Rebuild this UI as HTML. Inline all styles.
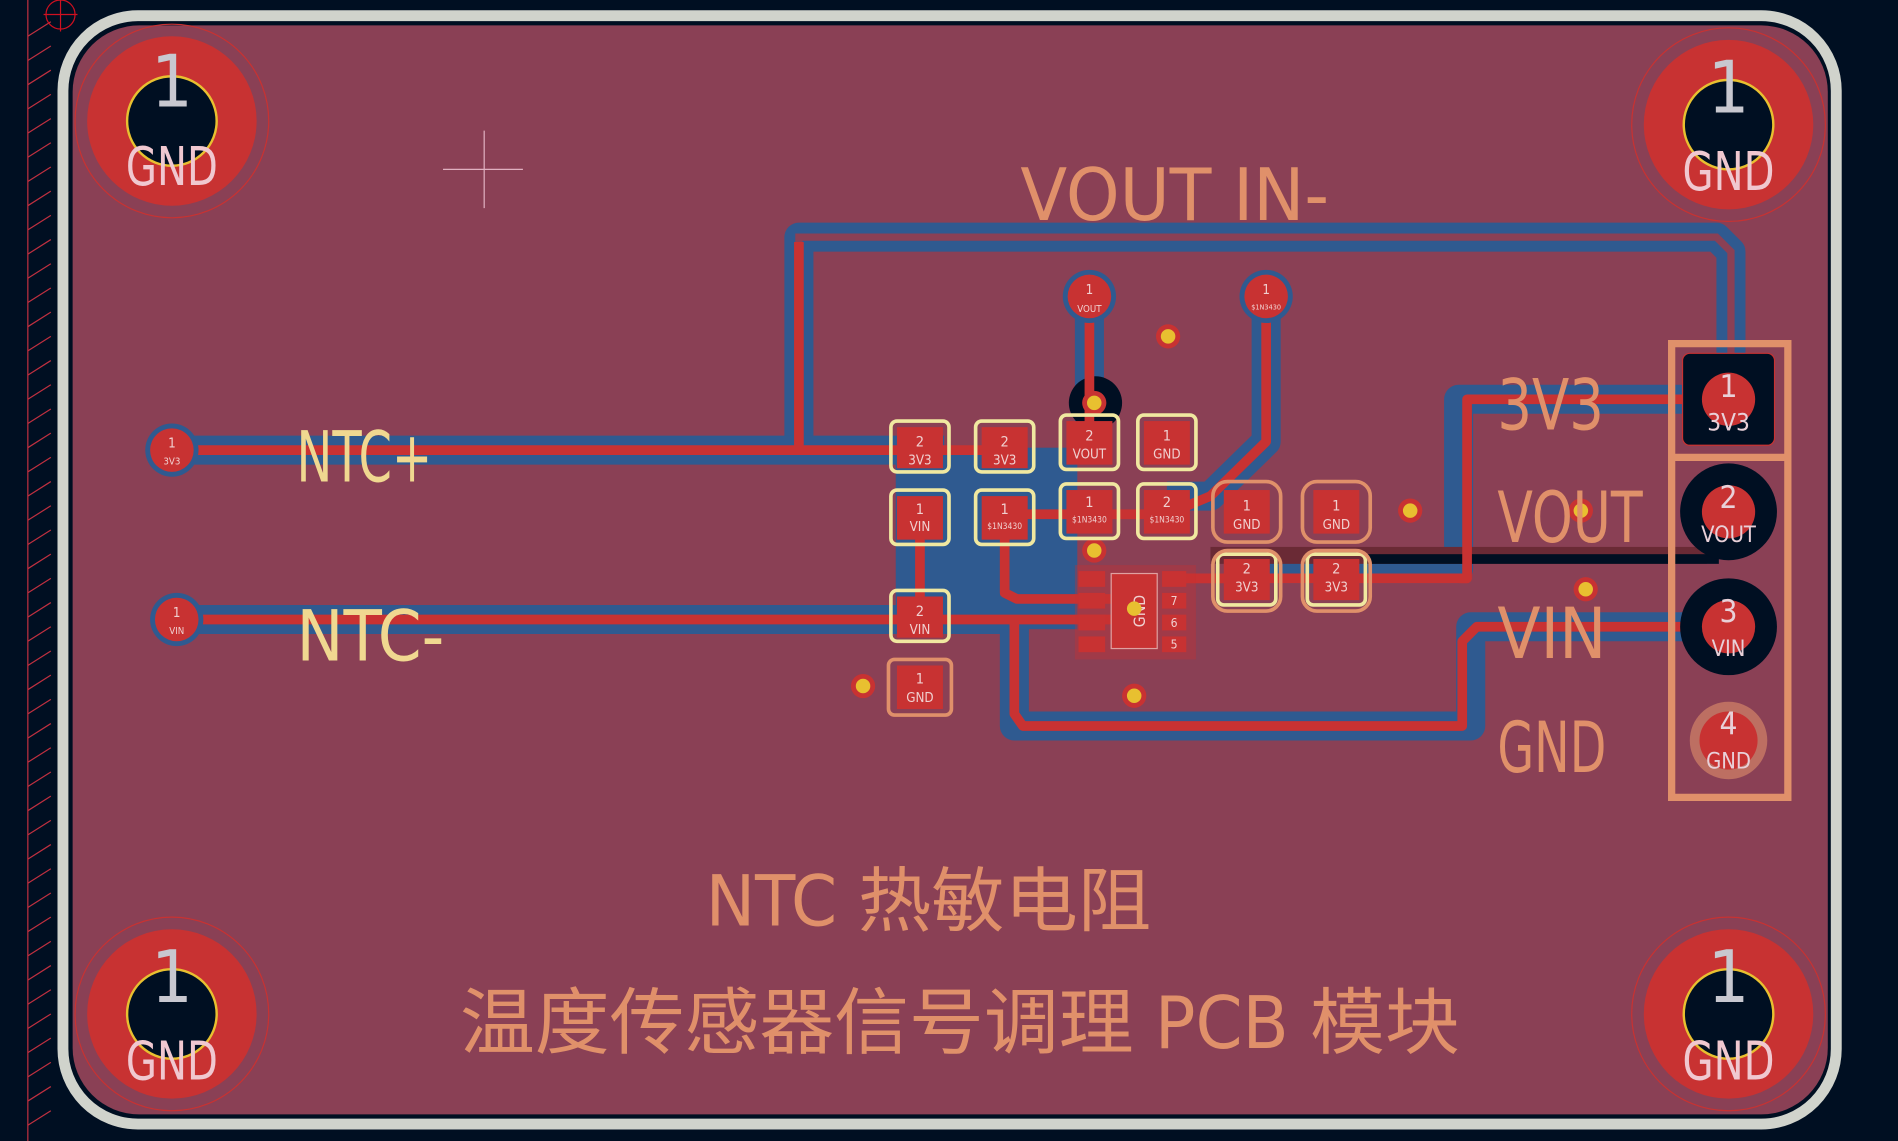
<!DOCTYPE html>
<html><head><meta charset="utf-8"><style>
html,body{margin:0;padding:0;background:#000f22;}
svg{display:block}
text{font-family:"DejaVu Sans Condensed","Liberation Sans","Noto Sans CJK SC",sans-serif}
.s{fill:#e0906a}
</style></head><body>
<svg width="1898" height="1141" viewBox="0 0 1568 943" preserveAspectRatio="none" xmlns="http://www.w3.org/2000/svg">
<rect width="1568" height="943" fill="#000f22"/>
<line x1="23" y1="0" x2="23" y2="943" stroke="#c03040" stroke-width="1"/>
<g stroke="#c03040" stroke-width="1">
<path d="M23,30 L42,18 M23,50 L42,38 M23,70 L42,58 M23,90 L42,78 M23,110 L42,98 M23,130 L42,118 M23,150 L42,138 M23,170 L42,158 M23,190 L42,178 M23,210 L42,198 M23,230 L42,218 M23,250 L42,238 M23,270 L42,258 M23,290 L42,278 M23,310 L42,298 M23,330 L42,318 M23,350 L42,338 M23,370 L42,358 M23,390 L42,378 M23,410 L42,398 M23,430 L42,418 M23,450 L42,438 M23,470 L42,458 M23,490 L42,478 M23,510 L42,498 M23,530 L42,518 M23,550 L42,538 M23,570 L42,558 M23,590 L42,578 M23,610 L42,598 M23,630 L42,618 M23,650 L42,638 M23,670 L42,658 M23,690 L42,678 M23,710 L42,698 M23,730 L42,718 M23,750 L42,738 M23,770 L42,758 M23,790 L42,778 M23,810 L42,798 M23,830 L42,818 M23,850 L42,838 M23,870 L42,858 M23,890 L42,878 M23,910 L42,898 M23,930 L42,918"/>
</g>
<circle cx="50" cy="12" r="12" fill="none" stroke="#d01020" stroke-width="1"/>
<path d="M50,0V26M36,12H64" stroke="#d01020"/>
<!-- board -->
<rect x="52" y="13" width="1465" height="916" rx="62" fill="#000f22" stroke="#d0d3cc" stroke-width="9"/>
<rect x="60" y="21" width="1450" height="900" rx="55" fill="#8a4055"/>
<path d="M400,108V172M366,140H432" stroke="#e0b0c0" stroke-width="1"/>

<!-- blue traces -->
<g fill="none" stroke="#2f5a90" stroke-width="24" stroke-linejoin="round">
<path d="M660,372V196H1418L1430,208V300"/>
<path d="M142,372H780"/>
<path d="M146,512H840"/>
<path d="M1428,330H1205V470H1030"/>
<path d="M1428,518H1215V600H838V515"/>
<path d="M900,245V370"/>
<path d="M1046,245V365L1000,410H964"/>
</g>
<rect x="740" y="370" width="150" height="150" fill="#2f5a90"/>
<path d="M660,372V196H1418L1430,208V300" fill="none" stroke="#8a4055" stroke-width="6"/>
<rect x="1000" y="452" width="410" height="14" fill="#6a2a35"/>
<rect x="1130" y="458" width="290" height="8" fill="#000f22"/>
<circle cx="905" cy="333" r="22" fill="#000f22"/>
<!-- red traces -->
<g fill="none" stroke="#c83232" stroke-width="8" stroke-linejoin="round">
<path d="M142,372H830"/>
<path d="M146,512H935"/>
<path d="M1428,330H1212V478H965"/>
<path d="M1428,518H1220L1208,530V600H845L838,590V515"/>
<path d="M900,245V370"/>
<path d="M1046,245V365L1000,410L964,425"/>
<path d="M830,425H964"/>
<path d="M760,430V512"/>
<path d="M830,430V490L840,495H930"/>
<path d="M660,372V200"/>
</g>

<!-- vias -->
<g>
<circle cx="965" cy="278" r="10" fill="#c83232"/><circle cx="965" cy="278" r="6" fill="#e8c030"/>
<circle cx="904" cy="333" r="10" fill="#c83232"/><circle cx="904" cy="333" r="6" fill="#e8c030"/>
<circle cx="904" cy="455" r="10" fill="#c83232"/><circle cx="904" cy="455" r="6" fill="#e8c030"/>
<circle cx="1165" cy="422" r="10" fill="#c83232"/><circle cx="1165" cy="422" r="6" fill="#e8c030"/>
<circle cx="1306" cy="422" r="10" fill="#c83232"/><circle cx="1306" cy="422" r="6" fill="#e8c030"/>
<circle cx="1310" cy="487" r="10" fill="#c83232"/><circle cx="1310" cy="487" r="6" fill="#e8c030"/>
<circle cx="713" cy="567" r="10" fill="#c83232"/><circle cx="713" cy="567" r="6" fill="#e8c030"/>
<circle cx="937" cy="575" r="10" fill="#c83232"/><circle cx="937" cy="575" r="6" fill="#e8c030"/>
</g>

<!-- small round pads -->
<g font-size="11" fill="#f0d0d0" text-anchor="middle">
<circle cx="142" cy="372" r="22" fill="#2f5a90"/><circle cx="142" cy="372" r="18" fill="#c83232"/><text x="142" y="370">1</text><text x="142" y="384" font-size="8">3V3</text>
<circle cx="146" cy="512" r="22" fill="#2f5a90"/><circle cx="146" cy="512" r="18" fill="#c83232"/><text x="146" y="510">1</text><text x="146" y="524" font-size="8">VIN</text>
<circle cx="900" cy="245" r="22" fill="#2f5a90"/><circle cx="900" cy="245" r="18" fill="#c83232"/><text x="900" y="243">1</text><text x="900" y="258" font-size="8">VOUT</text>
<circle cx="1046" cy="245" r="22" fill="#2f5a90"/><circle cx="1046" cy="245" r="18" fill="#c83232"/><text x="1046" y="243">1</text><text x="1046" y="256" font-size="6">$1N3430</text>
</g>

<!-- SMD pads -->
<g font-size="12" fill="#f0d0d0" text-anchor="middle">
<g stroke="#f0e8a0" stroke-width="3" fill="none">
<rect x="736" y="348" width="48" height="42" rx="5"/><rect x="736" y="405" width="48" height="45" rx="5"/>
<rect x="806" y="348" width="48" height="42" rx="5"/><rect x="806" y="405" width="48" height="45" rx="5"/>
<rect x="876" y="343" width="48" height="45" rx="5"/><rect x="876" y="400" width="48" height="45" rx="5"/>
<rect x="940" y="343" width="48" height="45" rx="5"/><rect x="940" y="400" width="48" height="45" rx="5"/>
<rect x="736" y="488" width="48" height="42" rx="5"/>
<rect x="1006" y="458" width="48" height="42" rx="5"/><rect x="1080" y="458" width="48" height="42" rx="5"/>
</g>
<g stroke="#e0906a" stroke-width="3" fill="none">
<rect x="734" y="545" width="52" height="46" rx="5"/>
<rect x="1002" y="398" width="56" height="50" rx="12"/><rect x="1076" y="398" width="56" height="50" rx="12"/>
<rect x="1002" y="455" width="56" height="50" rx="12"/><rect x="1076" y="455" width="56" height="50" rx="12"/>
</g>
<g fill="#c83232">
<rect x="741" y="353" width="38" height="34"/><rect x="741" y="410" width="38" height="36"/>
<rect x="811" y="353" width="38" height="34"/><rect x="811" y="410" width="38" height="36"/>
<rect x="881" y="348" width="38" height="36"/><rect x="881" y="405" width="38" height="36"/>
<rect x="945" y="348" width="38" height="36"/><rect x="945" y="405" width="38" height="36"/>
<rect x="741" y="493" width="38" height="34"/><rect x="741" y="550" width="38" height="36"/>
<rect x="1011" y="405" width="38" height="36"/><rect x="1085" y="405" width="38" height="36"/>
<rect x="1011" y="462" width="38" height="34"/><rect x="1085" y="462" width="38" height="34"/>
</g>
<g fill="#f0d0d0">
<text x="760" y="369">2</text><text x="760" y="384" font-size="11">3V3</text>
<text x="760" y="425">1</text><text x="760" y="439" font-size="11">VIN</text>
<text x="830" y="369">2</text><text x="830" y="384" font-size="11">3V3</text>
<text x="830" y="425">1</text><text x="830" y="437" font-size="7">$1N3430</text>
<text x="900" y="364">2</text><text x="900" y="379" font-size="11">VOUT</text>
<text x="900" y="419">1</text><text x="900" y="432" font-size="7">$1N3430</text>
<text x="964" y="364">1</text><text x="964" y="379" font-size="11">GND</text>
<text x="964" y="419">2</text><text x="964" y="432" font-size="7">$1N3430</text>
<text x="760" y="509">2</text><text x="760" y="524" font-size="11">VIN</text>
<text x="760" y="565">1</text><text x="760" y="580" font-size="11">GND</text>
<text x="1030" y="422">1</text><text x="1030" y="437" font-size="11">GND</text>
<text x="1104" y="422">1</text><text x="1104" y="437" font-size="11">GND</text>
<text x="1030" y="474">2</text><text x="1030" y="489" font-size="11">3V3</text>
<text x="1104" y="474">2</text><text x="1104" y="489" font-size="11">3V3</text>
</g>
<!-- IC -->
<rect x="888" y="467" width="100" height="78" fill="#c83232" opacity="0.35"/>
<rect x="918" y="474" width="38" height="62" fill="#c83232" stroke="#e0a0a0" stroke-width="1"/>
<text x="946" y="505" font-size="13" transform="rotate(-90 946 505)">GND</text>
<circle cx="937" cy="503" r="6" fill="#e8c030"/>
<g fill="#c83232"><rect x="891" y="472" width="22" height="13"/><rect x="891" y="490" width="22" height="13"/><rect x="891" y="508" width="22" height="13"/><rect x="891" y="526" width="22" height="13"/>
<rect x="960" y="472" width="20" height="13"/><rect x="960" y="490" width="20" height="13"/><rect x="960" y="508" width="20" height="13"/><rect x="960" y="526" width="20" height="13"/></g>
<text x="970" y="500" font-size="10">7</text><text x="970" y="518" font-size="10">6</text><text x="970" y="536" font-size="10">5</text>
</g>

<!-- mounting holes -->
<g text-anchor="middle">
<g><circle cx="142" cy="100" r="80" fill="none" stroke="#c83232" stroke-width="1"/><circle cx="142" cy="100" r="70" fill="#c83232"/><circle cx="142" cy="100" r="37" fill="#000f22" stroke="#e8c030" stroke-width="2"/><text x="142" y="88" font-size="60" fill="#c8c8d0">1</text><text x="142" y="153" font-size="44" fill="#f0c8d0" textLength="76" lengthAdjust="spacingAndGlyphs">GND</text></g>
<g><circle cx="1428" cy="103" r="80" fill="none" stroke="#c83232" stroke-width="1"/><circle cx="1428" cy="103" r="70" fill="#c83232"/><circle cx="1428" cy="103" r="37" fill="#000f22" stroke="#e8c030" stroke-width="2"/><text x="1428" y="93" font-size="60" fill="#c8c8d0">1</text><text x="1428" y="157" font-size="44" fill="#f0c8d0" textLength="76" lengthAdjust="spacingAndGlyphs">GND</text></g>
<g><circle cx="142" cy="838" r="80" fill="none" stroke="#c83232" stroke-width="1"/><circle cx="142" cy="838" r="70" fill="#c83232"/><circle cx="142" cy="838" r="37" fill="#000f22" stroke="#e8c030" stroke-width="2"/><text x="142" y="828" font-size="60" fill="#c8c8d0">1</text><text x="142" y="892" font-size="44" fill="#f0c8d0" textLength="76" lengthAdjust="spacingAndGlyphs">GND</text></g>
<g><circle cx="1428" cy="838" r="80" fill="none" stroke="#c83232" stroke-width="1"/><circle cx="1428" cy="838" r="70" fill="#c83232"/><circle cx="1428" cy="838" r="37" fill="#000f22" stroke="#e8c030" stroke-width="2"/><text x="1428" y="828" font-size="60" fill="#c8c8d0">1</text><text x="1428" y="892" font-size="44" fill="#f0c8d0" textLength="76" lengthAdjust="spacingAndGlyphs">GND</text></g>
</g>

<!-- connector -->
<rect x="1381" y="284" width="96" height="375" fill="none" stroke="#e0906a" stroke-width="6"/>
<line x1="1381" y1="378" x2="1477" y2="378" stroke="#e0906a" stroke-width="6"/>
<rect x="1390" y="292" width="76" height="76" rx="6" fill="#000f22" stroke="#c83232" stroke-width="1"/>
<circle cx="1428" cy="330" r="22" fill="#c83232"/>
<circle cx="1428" cy="423" r="40" fill="#000f22"/><circle cx="1428" cy="423" r="22" fill="#c83232"/>
<circle cx="1428" cy="518" r="40" fill="#000f22"/><circle cx="1428" cy="518" r="22" fill="#c83232"/>
<circle cx="1428" cy="612" r="32" fill="#e0906a" opacity="0.6"/><circle cx="1428" cy="612" r="24" fill="#c83232"/>
<g text-anchor="middle" fill="#e8d0d8">
<text x="1428" y="328" font-size="26">1</text><text x="1428" y="356" font-size="20">3V3</text>
<text x="1428" y="420" font-size="26">2</text><text x="1428" y="448" font-size="18">VOUT</text>
<text x="1428" y="514" font-size="26">3</text><text x="1428" y="542" font-size="18">VIN</text>
<text x="1428" y="607" font-size="26">4</text><text x="1428" y="635" font-size="18">GND</text>
</g>

<!-- silkscreen -->
<g class="s" fill="#e0906a">
<text x="843" y="182" font-size="60" textLength="255" lengthAdjust="spacingAndGlyphs">VOUT IN-</text>
<text x="245" y="398" font-size="58" textLength="112" lengthAdjust="spacingAndGlyphs" fill="#f0d890">NTC+</text>
<text x="245" y="546" font-size="58" textLength="122" lengthAdjust="spacingAndGlyphs" fill="#f0d890">NTC-</text>
<text x="1237" y="355" font-size="58" textLength="88" lengthAdjust="spacingAndGlyphs">3V3</text>
<text x="1237" y="448" font-size="58" textLength="120" lengthAdjust="spacingAndGlyphs">VOUT</text>
<text x="1237" y="544" font-size="58" textLength="90" lengthAdjust="spacingAndGlyphs">VIN</text>
<text x="1237" y="638" font-size="58" textLength="90" lengthAdjust="spacingAndGlyphs">GND</text>
<text x="583" y="765" font-size="58" textLength="368" lengthAdjust="spacingAndGlyphs">NTC 热敏电阻</text>
<text x="380" y="866" font-size="60" textLength="826" lengthAdjust="spacingAndGlyphs">温度传感器信号调理 PCB 模块</text>
</g>
</svg>
</body></html>
